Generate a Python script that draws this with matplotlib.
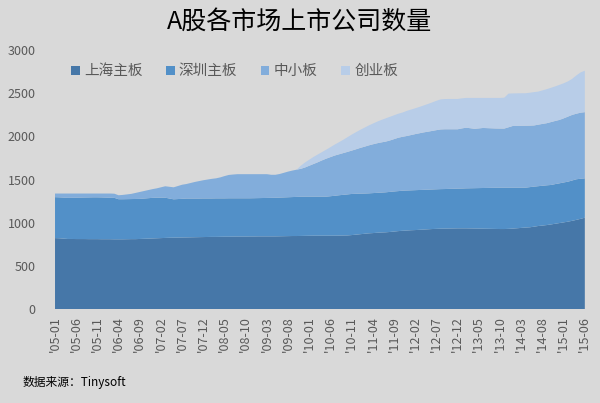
import numpy as np
import matplotlib
matplotlib.use("Agg")
import matplotlib.pyplot as plt
from matplotlib.patches import Patch

plt.rcParams['font.family'] = ['Noto Sans CJK SC', 'DejaVu Sans']

# monthly, '05-01 .. '15-06
tick_labels = ["'05-01", "'05-06", "'05-11", "'06-04", "'06-09", "'07-02", "'07-07",
               "'07-12", "'08-05", "'08-10", "'09-03", "'09-08", "'10-01", "'10-06",
               "'10-11", "'11-04", "'11-09", "'12-02", "'12-07", "'12-12", "'13-05",
               "'13-10", "'14-03", "'14-08", "'15-01", "'15-06"]

series_names = ["上海主板", "深圳主板", "中小板", "创业板"]

shanghai = [
    822, 820, 816, 812, 812, 811, 811, 811, 810, 810, 810, 809,
    809, 809, 808, 808, 808, 809, 810, 810, 812, 814, 816, 818,
    820, 822, 824, 826, 827, 828, 829, 830, 831, 832, 833, 834,
    835, 836, 836, 837, 838, 838, 839, 840, 840, 840, 841, 841,
    842, 842, 842, 842, 842, 843, 844, 845, 846, 846, 847, 848,
    849, 850, 850, 850, 850, 850, 850, 851, 852, 853, 857, 862,
    867, 872, 877, 880, 884, 887, 889, 893, 898, 903, 907, 910,
    913, 915, 918, 921, 924, 927, 929, 931, 932, 933, 934, 935,
    935, 935, 934, 933, 932, 931, 930, 929, 928, 927, 927, 929,
    932, 936, 940, 944, 947, 954, 962, 967, 973, 980, 988, 996,
    1004, 1012, 1022, 1033, 1045, 1058]

shenzhen = [
    474, 474, 475, 476, 477, 479, 480, 481, 483, 484, 484, 484,
    482, 480, 480, 464, 464, 464, 464, 465, 464, 466, 468, 470,
    470, 468, 466, 454, 444, 446, 448, 450, 449, 448, 447, 447,
    446, 445, 446, 445, 444, 445, 444, 443, 443, 443, 442, 443,
    443, 444, 445, 446, 447, 448, 449, 450, 451, 453, 454, 454,
    453, 452, 452, 452, 452, 457, 462, 467, 471, 475, 476, 473,
    470, 466, 463, 463, 462, 462, 463, 464, 464, 463, 464, 463,
    462, 462, 461, 460, 459, 458, 458, 458, 458, 459, 459, 460,
    461, 463, 465, 467, 469, 471, 473, 475, 477, 479, 479, 477,
    474, 470, 466, 462, 465, 464, 461, 461, 460, 457, 459, 460,
    462, 463, 467, 470, 464, 456]

sme = [
    42, 44, 47, 50, 49, 48, 47, 46, 45, 44, 44, 45,
    47, 49, 48, 46, 50, 55, 60, 70, 80, 87, 94, 101,
    108, 120, 132, 136, 139, 151, 163, 168, 180, 192, 202, 211,
    219, 227, 232, 243, 258, 270, 275, 279, 279, 279, 279, 278,
    277, 276, 275, 267, 266, 273, 285, 297, 307, 315, 323, 338,
    358, 378, 398, 420, 440, 453, 466, 474, 483, 492, 502, 515,
    529, 542, 555, 565, 574, 581, 587, 595, 606, 618, 624, 631,
    640, 649, 657, 665, 671, 678, 685, 691, 692, 690, 689, 687,
    696, 702, 695, 687, 691, 695, 692, 689, 686, 684, 684, 699,
    714, 715, 716, 717, 712, 708, 712, 716, 719, 728, 731, 734,
    742, 753, 759, 759, 765, 766]

gem = [
    0, 0, 0, 0, 0, 0, 0, 0, 0, 0, 0, 0,
    0, 0, 0, 0, 0, 0, 0, 0, 0, 0, 0, 0,
    0, 0, 0, 0, 0, 0, 0, 0, 0, 0, 0, 0,
    0, 0, 0, 0, 0, 0, 0, 0, 0, 0, 0, 0,
    0, 0, 0, 0, 0, 0, 0, 0, 0, 0, 36, 58,
    70, 82, 90, 96, 104, 115, 127, 140, 154, 170, 185, 198,
    209, 220, 230, 240, 250, 260, 269, 274, 276, 278, 281, 291,
    295, 299, 305, 312, 321, 330, 340, 348, 350, 351, 351, 351,
    348, 345, 351, 358, 353, 348, 350, 352, 354, 355, 358, 390,
    377, 377, 377, 376, 381, 386, 383, 388, 394, 397, 400, 406,
    406, 408, 417, 443, 466, 480]

colors = ["#4677A8", "#5290C8", "#82ADDB", "#B8CDE8"]
bg = "#D9D9D9"

fig = plt.figure(figsize=(6, 4.03), dpi=100, facecolor=bg)
ax = fig.add_axes([0.0917, 0.233, 0.883, 0.643], facecolor=bg)

x = np.arange(len(shanghai))
ax.stackplot(x, shanghai, shenzhen, sme, gem, colors=colors, linewidth=0)

ax.set_xlim(0, len(shanghai) - 1)
ax.set_ylim(0, 3000)
ax.set_yticks(range(0, 3001, 500))
ax.set_xticks(range(0, len(shanghai), 5))
ax.set_xticklabels(tick_labels, rotation=90, fontsize=9, color="#595959")
ax.tick_params(axis="y", labelsize=9, labelcolor="#595959", length=0, pad=14)
ax.tick_params(axis="x", length=0, pad=5)
for s in ax.spines.values():
    s.set_visible(False)

handles = [Patch(facecolor=c, edgecolor="none") for c in colors]
leg = ax.legend(handles, series_names, loc="upper left", bbox_to_anchor=(0.005, 0.995),
                ncol=4, frameon=False, fontsize=10.5, handlelength=0.6, handleheight=0.6,
                handletextpad=0.3, columnspacing=1.6)
for t in leg.get_texts():
    t.set_color("#595959")

fig.text(0.5, 0.945, "A股各市场上市公司数量", ha="center", va="center", fontsize=18, color="black")
fig.text(0.037, 0.052, "数据来源：Tinysoft", ha="left", va="center", fontsize=8.5, color="black")

fig.savefig("out.png", dpi=100, facecolor=bg)
